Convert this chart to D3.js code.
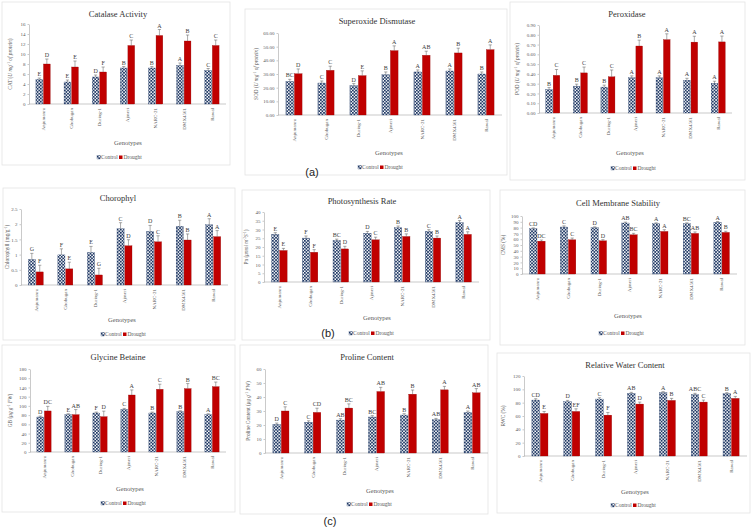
<!doctype html>
<html>
<head>
<meta charset="utf-8">
<style>
  body { margin:0; background:#fff; }
  svg text { font-family:"Liberation Serif","Times New Roman",serif; fill:#404040; }
  .tick text { font-size:5px; fill:#595959; }
  .tick line, .domain { stroke:#a6a6a6; stroke-width:0.6; }
</style>
</head>
<body>
<svg id="fig" width="755" height="527"></svg>
<script src="https://d3js.org/d3.v7.min.js"></script>
<script>
// genotypes along every x axis
var genotypes = ["Anjumanra", "Ghobugan", "During-1", "Ajmeri", "NARC-21", "DMX4561", "Rawal"];

// Catalase
var catControl = [4.9, 4.4, 5.4, 7.2, 7.2, 7.7, 6.7];
var catDrought = [8.0, 7.4, 6.4, 11.7, 13.7, 12.6, 11.7];
var catControlErr = [0.3, 0.4, 0.4, 0.3, 0.3, 0.5, 0.4];
var catDroughtErr = [1.0, 1.2, 1.0, 1.1, 1.2, 1.2, 1.1];
var catControlSig = ["E", "E", "D", "B", "B", "A", "C"];
var catDroughtSig = ["D", "E", "F", "C", "A", "B", "C"];
var catTicks = [0, 2, 4, 6, 8, 10, 12, 14, 16];

// Superoxide dismutase
var sodControl = [24.6, 23.4, 21.5, 29.5, 31.5, 32.2, 30.0];
var sodDrought = [30.2, 32.7, 28.8, 47.1, 43.7, 45.4, 47.8];
var sodControlErr = [1.5, 1.5, 1.5, 2, 1.5, 1.5, 1.5];
var sodDroughtErr = [3.5, 3, 3.5, 3.5, 3, 3.5, 3.5];
var sodControlSig = ["BC", "C", "D", "B", "A", "A", "B"];
var sodDroughtSig = ["D", "C", "E", "A", "AB", "B", "A"];
var sodTicks = [0, 10, 20, 30, 40, 50, 60];

// Peroxidase
var podControl = [0.24, 0.275, 0.265, 0.36, 0.36, 0.335, 0.305];
var podDrought = [0.385, 0.41, 0.37, 0.685, 0.75, 0.725, 0.727];
var podControlErr = [0.02, 0.02, 0.02, 0.02, 0.02, 0.02, 0.02];
var podDroughtErr = [0.06, 0.06, 0.07, 0.06, 0.06, 0.06, 0.06];
var podControlSig = ["B", "B", "B", "A", "A", "A", "A"];
var podDroughtSig = ["C", "C", "C", "B", "A", "A", "A"];
var podTicks = [0, 0.1, 0.2, 0.3, 0.4, 0.5, 0.6, 0.7, 0.8, 0.9];

// Chlorophyll
var chlControl = [0.84, 0.99, 1.07, 1.85, 1.76, 1.93, 1.98];
var chlDrought = [0.43, 0.53, 0.33, 1.29, 1.42, 1.48, 1.59];
var chlControlErr = [0.2, 0.2, 0.2, 0.2, 0.2, 0.2, 0.2];
var chlDroughtErr = [0.22, 0.22, 0.22, 0.2, 0.2, 0.2, 0.2];
var chlControlSig = ["G", "F", "E", "C", "D", "B", "A"];
var chlDroughtSig = ["F", "E", "G", "D", "C", "B", "A"];
var chlTicks = [0, 0.5, 1, 1.5, 2, 2.5];

// Photosynthesis rate
var pnControl = [27.2, 25.1, 23.7, 27.9, 31.0, 28.9, 33.9];
var pnDrought = [18.0, 17.0, 18.9, 24.1, 26.0, 25.1, 27.2];
var pnControlErr = [1, 1.2, 0.8, 1, 1, 1, 1.2];
var pnDroughtErr = [1.2, 1.5, 1.5, 1.5, 1.5, 1.2, 1.5];
var pnControlSig = ["E", "F", "BC", "D", "B", "C", "A"];
var pnDroughtSig = ["E", "F", "D", "C", "B", "B", "A"];
var pnTicks = [0, 5, 10, 15, 20, 25, 30, 35, 40];

// Cell membrane stability
var cmsControl = [78, 81, 79.8, 87.9, 86.7, 86.7, 89];
var cmsDrought = [56.6, 59, 57.2, 67.6, 73.4, 70, 71.7];
var cmsControlErr = [1.5, 2, 1.5, 1.5, 1.5, 1.5, 1.5];
var cmsDroughtErr = [2, 3, 2, 2.5, 3, 2.5, 2];
var cmsControlSig = ["CD", "C", "D", "AB", "A", "BC", "A"];
var cmsDroughtSig = ["DC", "C", "D", "BC", "A", "AB", "B"];
var cmsTicks = [0, 10, 20, 30, 40, 50, 60, 70, 80, 90, 100];

// Glycine betaine
var gbControl = [75.9, 81, 84.6, 92.5, 84.6, 87.5, 81];
var gbDrought = [89, 81, 76.6, 123.6, 136, 137.4, 141.7];
var gbControlErr = [2, 2, 2, 2, 2, 2, 2];
var gbDroughtErr = [10, 11, 12, 11, 11, 11, 10];
var gbControlSig = ["D", "E", "F", "C", "B", "B", "A"];
var gbDroughtSig = ["DC", "AB", "D", "A", "C", "B", "BC"];
var gbTicks = [0, 20, 40, 60, 80, 100, 120, 140, 160, 180];

// Proline content
var proControl = [20.4, 22, 23.5, 25.7, 27.1, 23.7, 29];
var proDrought = [30, 29, 32.1, 43.9, 42, 45.1, 43];
var proControlErr = [1, 1, 1, 1, 1, 1, 1];
var proDroughtErr = [3, 3, 3, 3, 3, 2.5, 3];
var proControlSig = ["D", "C", "AB", "BC", "B", "AB", "A"];
var proDroughtSig = ["C", "CD", "BC", "AB", "B", "A", "AB"];
var proTicks = [0, 10, 20, 30, 40, 50, 60];

// Relative water content
var rwcControl = [83.9, 81.4, 85.4, 94, 95, 92, 93.5];
var rwcDrought = [63.8, 66.8, 61.3, 77.9, 83.4, 80.9, 86.4];
var rwcControlErr = [2, 2, 2, 1.5, 1.5, 2, 1.5];
var rwcDroughtErr = [3, 4, 4, 3, 3, 3, 3];
var rwcControlSig = ["CD", "D", "C", "AB", "A", "ABC", "B"];
var rwcDroughtSig = ["E", "EF", "F", "D", "B", "C", "A"];
var rwcTicks = [0, 20, 40, 60, 80, 100, 120];

var NAVY = "#1f3864", RED = "#c00000";

var svg = d3.select("#fig");
var defs = svg.append("defs");
var pat = defs.append("pattern").attr("id", "chk").attr("width", 3.2).attr("height", 3.2)
    .attr("patternUnits", "userSpaceOnUse");
pat.append("rect").attr("width", 3.2).attr("height", 3.2).attr("fill", "#fff");
pat.append("rect").attr("width", 1.8).attr("height", 1.8).attr("fill", NAVY);
pat.append("rect").attr("x", 1.6).attr("y", 1.6).attr("width", 1.8).attr("height", 1.8).attr("fill", NAVY);

var unitProtein = function(p){ return [[p + " (", ""], ["U mg", "i"], ["-1", "sup"], [" of protein", "i"], [")", ""]]; };

var panels = [
  {title:"Catalase Activity", box:[2,2,228,163], x:[29,226], y:[104,24], ticks:catTicks, fmt:d3.format("d"),
   ctrl:catControl, dro:catDrought, ce:catControlErr, de:catDroughtErr, cs:catControlSig, ds:catDroughtSig,
   titleY:17, titleX:118, ylab:unitProtein("CAT"), ylabX:12, genoY:145, genoX:128, legY:159, legX:116},
  {title:"Superoxide Dismutase", box:[245,9,262,166], x:[278,502], y:[115,33], ticks:sodTicks, fmt:d3.format(".2f"),
   ctrl:sodControl, dro:sodDrought, ce:sodControlErr, de:sodDroughtErr, cs:sodControlSig, ds:sodDroughtSig,
   titleY:24, titleX:377, ylab:unitProtein("SOD"), ylabX:258, genoY:155, genoX:389, legY:169, legX:377},
  {title:"Peroxidase", box:[510,2,235,178], x:[539,732], y:[113,25], ticks:podTicks, fmt:d3.format(".2f"),
   ctrl:podControl, dro:podDrought, ce:podControlErr, de:podDroughtErr, cs:podControlSig, ds:podDroughtSig,
   titleY:17, titleX:627, ylab:unitProtein("POD"), ylabX:519, genoY:155, genoX:630, legY:170, legX:630},
  {title:"Chorophyl", box:[3,188,232,152], x:[21,228], y:[285,209], ticks:chlTicks, fmt:d3.format(""),
   ctrl:chlControl, dro:chlDrought, ce:chlControlErr, de:chlDroughtErr, cs:chlControlSig, ds:chlDroughtSig,
   titleY:201, titleX:118, ylab:[["Chlorophyll (mg/g", ""], ["-1", "sup"], [")", ""]], ylabX:9, genoY:322, genoX:122, legY:336, legX:120},
  {title:"Photosynthesis Rate", box:[242,190,248,150], x:[264,479], y:[282,212], ticks:pnTicks, fmt:d3.format("d"),
   ctrl:pnControl, dro:pnDrought, ce:pnControlErr, de:pnDroughtErr, cs:pnControlSig, ds:pnDroughtSig,
   titleY:204, titleX:362, ylab:[["Pn (", ""], ["μmol m", "i"], ["-2", "sup"], ["S", "i"], ["-1", "sup"], [")", ""]], ylabX:248, genoY:320, genoX:377, legY:335, legX:368},
  {title:"Cell Membrane Stability", box:[500,190,245,155], x:[522,737], y:[274,216], ticks:cmsTicks, fmt:d3.format("d"),
   ctrl:cmsControl, dro:cmsDrought, ce:cmsControlErr, de:cmsDroughtErr, cs:cmsControlSig, ds:cmsDroughtSig,
   titleY:206, titleX:618, ylab:[["CMS (%)", ""]], ylabX:505, genoY:318, genoX:628, legY:335, legX:618},
  {title:"Glycine Betaine", box:[2,345,233,167], x:[30,226], y:[452,369], ticks:gbTicks, fmt:d3.format("d"),
   ctrl:gbControl, dro:gbDrought, ce:gbControlErr, de:gbDroughtErr, cs:gbControlSig, ds:gbDroughtSig,
   titleY:360, titleX:118, ylab:[["GB (", ""], ["μg g", "i"], ["-1", "sup"], [" FW", "i"], [")", ""]], ylabX:12, genoY:491, genoX:130, legY:505, legX:120},
  {title:"Proline Content", box:[240,345,248,169], x:[265,488], y:[453,369], ticks:proTicks, fmt:d3.format("d"),
   ctrl:proControl, dro:proDrought, ce:proControlErr, de:proDroughtErr, cs:proControlSig, ds:proDroughtSig,
   titleY:360, titleX:367, ylab:[["Proline Content (", ""], ["μg g", "i"], ["-1", "sup"], [" FW", "i"], [")", ""]], ylabX:250, genoY:493, genoX:380, legY:506, legX:366},
  {title:"Relative Water Content", box:[497,353,253,160], x:[524,747], y:[456,376], ticks:rwcTicks, fmt:d3.format("d"),
   ctrl:rwcControl, dro:rwcDrought, ce:rwcControlErr, de:rwcDroughtErr, cs:rwcControlSig, ds:rwcDroughtSig,
   titleY:368, titleX:625, ylab:[["RWC (%)", ""]], ylabX:505, genoY:494, genoX:635, legY:507, legX:630}
];

panels.forEach(function(p){
  var g = svg.append("g");
  g.append("rect").attr("x", p.box[0]).attr("y", p.box[1]).attr("width", p.box[2]).attr("height", p.box[3])
    .attr("fill", "#fff").attr("stroke", "#e3e3e3").attr("stroke-width", 0.8);

  var x = d3.scaleBand().domain(genotypes).range(p.x);
  var y = d3.scaleLinear().domain([0, d3.max(p.ticks)]).range(p.y);
  var bw = x.bandwidth() * 0.24;

  g.append("text").attr("x", p.titleX).attr("y", p.titleY).attr("text-anchor", "middle")
    .style("font-size", "8.5px").style("fill", "#333").text(p.title);

  g.append("g").attr("transform", "translate(" + p.x[0] + ",0)")
    .call(d3.axisLeft(y).tickValues(p.ticks).tickFormat(p.fmt).tickSize(1.5).tickSizeOuter(0).tickPadding(2));
  g.append("line").attr("x1", p.x[0]).attr("x2", p.x[1]).attr("y1", p.y[0]).attr("y2", p.y[0])
    .attr("stroke", "#a6a6a6").attr("stroke-width", 0.6);

  // category labels, rotated
  g.selectAll(".cat").data(genotypes).join("text")
    .attr("transform", function(d){ return "translate(" + (x(d) + x.bandwidth() / 2 + 1.8) + "," + (p.y[0] + 4) + ") rotate(-90)"; })
    .attr("text-anchor", "end").style("font-size", "5px").style("fill", "#595959").text(function(d){ return d; });

  // y label
  var yl = g.append("text").attr("transform", "translate(" + p.ylabX + "," + ((p.y[0] + p.y[1]) / 2) + ") rotate(-90)")
    .attr("text-anchor", "middle").style("font-size", "5.3px").style("fill", "#595959");
  var shift = 0;
  p.ylab.forEach(function(part){
    var t = yl.append("tspan").text(part[0]);
    if (part[1] === "i") t.style("font-style", "italic");
    if (part[1] === "sup") { t.attr("dy", -1.6).style("font-size", "3.6px"); shift = 1.6; }
    else if (shift) { t.attr("dy", shift); shift = 0; }
  });

  g.append("text").attr("x", p.genoX).attr("y", p.genoY).attr("text-anchor", "middle")
    .style("font-size", "6.5px").style("fill", "#595959").text("Genotypes");

  // bars: control then drought
  var sets = [
    {vals:p.ctrl, err:p.ce, sig:p.cs, fill:"url(#chk)", stroke:NAVY, off:-bw - 0.4},
    {vals:p.dro, err:p.de, sig:p.ds, fill:RED, stroke:"#8b0000", off:0.4}
  ];
  sets.forEach(function(s){
    var bx = function(d, i){ return x(genotypes[i]) + x.bandwidth() / 2 + s.off; };
    g.selectAll(null).data(s.vals).join("rect")
      .attr("x", bx).attr("width", bw)
      .attr("y", function(d){ return y(d); }).attr("height", function(d){ return y(0) - y(d); })
      .attr("fill", s.fill).attr("stroke", s.stroke).attr("stroke-width", 0.3);
    g.selectAll(null).data(s.vals).join("path")
      .attr("d", function(d, i){
        var cx = bx(d, i) + bw / 2, y0 = y(d), y1 = y(d + s.err[i]);
        return "M" + cx + "," + y0 + "V" + y1 + "M" + (cx - 1.6) + "," + y1 + "H" + (cx + 1.6);
      })
      .attr("stroke", "#595959").attr("stroke-width", 0.5).attr("fill", "none");
    g.selectAll(null).data(s.vals).join("text")
      .attr("x", function(d, i){ return bx(d, i) + bw / 2; })
      .attr("y", function(d, i){ return y(d + s.err[i]) - 2; })
      .attr("text-anchor", "middle").style("font-size", "6px").style("fill", "#404040")
      .text(function(d, i){ return s.sig[i]; });
  });

  // legend
  var lg = g.append("g").attr("transform", "translate(" + p.legX + "," + p.legY + ")");
  lg.append("rect").attr("x", -19).attr("y", -3.5).attr("width", 3.5).attr("height", 3.5).attr("fill", "url(#chk)").attr("stroke", NAVY).attr("stroke-width", 0.3);
  lg.append("text").attr("x", -15).attr("y", 0).style("font-size", "5.5px").style("fill", "#595959").text("Control");
  lg.append("rect").attr("x", 3).attr("y", -3.5).attr("width", 3.5).attr("height", 3.5).attr("fill", RED);
  lg.append("text").attr("x", 7.5).attr("y", 0).style("font-size", "5.5px").style("fill", "#595959").text("Drought");
});

// sub-figure labels
var subs = [["(a)", 312, 176], ["(b)", 328, 337], ["(c)", 330, 525]];
svg.selectAll(".sub").data(subs).join("text")
  .attr("x", function(d){ return d[1]; }).attr("y", function(d){ return d[2]; })
  .attr("text-anchor", "middle").style("font-family", "'Liberation Sans', Arial, sans-serif")
  .style("font-size", "11px").style("fill", "#222").text(function(d){ return d[0]; });
</script>
</body>
</html>
